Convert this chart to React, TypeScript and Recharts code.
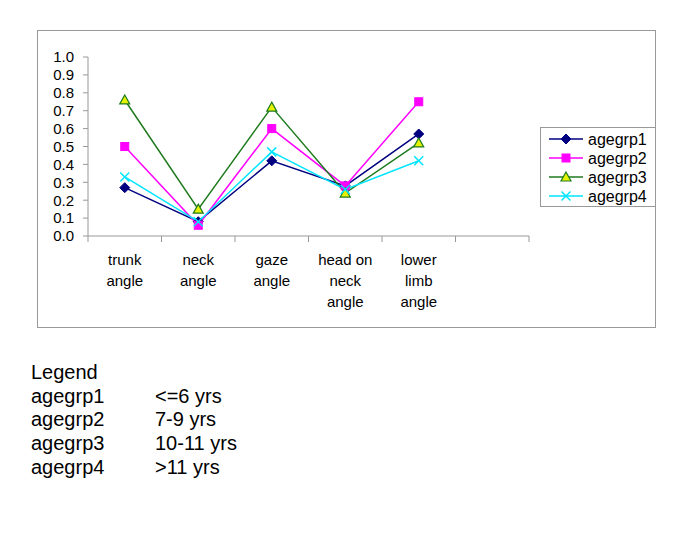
import React from 'react'
import { LineChart, Line, XAxis, YAxis } from 'recharts'

// ── データ ──
const categories = ['trunk\nangle', 'neck\nangle', 'gaze\nangle', 'head on\nneck\nangle', 'lower\nlimb\nangle', '']
const agegrp1 = [0.27, 0.08, 0.42, 0.28, 0.57]
const agegrp2 = [0.5, 0.06, 0.6, 0.28, 0.75]
const agegrp3 = [0.76, 0.15, 0.72, 0.24, 0.52]
const agegrp4 = [0.33, 0.08, 0.47, 0.26, 0.42]
const yTicks = [0, 0.1, 0.2, 0.3, 0.4, 0.5, 0.6, 0.7, 0.8, 0.9, 1.0]
const groupNames = ['agegrp1', 'agegrp2', 'agegrp3', 'agegrp4']
const groupAges = ['<=6 yrs', '7-9 yrs', '10-11 yrs', '>11 yrs']

const data = categories.map((c, i) => ({
  name: c,
  agegrp1: agegrp1[i] ?? null,
  agegrp2: agegrp2[i] ?? null,
  agegrp3: agegrp3[i] ?? null,
  agegrp4: agegrp4[i] ?? null,
}))

const FONT = 'Liberation Sans, Arial, sans-serif'
const W = 619
const H = 298
const M = { top: 27, right: 127, left: 11, bottom: 12 }
const PLOT_W = W - M.left - M.right - 40
const BAND = PLOT_W / categories.length

// ── マーカー ──
function Marker({ kind, cx, cy }: { kind: number; cx: number; cy: number }) {
  if (cx == null || cy == null) return null
  if (kind === 0)
    return <polygon points={`${cx},${cy - 5} ${cx + 5},${cy} ${cx},${cy + 5} ${cx - 5},${cy}`} fill="#000080" stroke="#000080" />
  if (kind === 1)
    return <rect x={cx - 4} y={cy - 4} width={8} height={8} fill="#FF00FF" stroke="#FF00FF" />
  if (kind === 2)
    return <polygon points={`${cx},${cy - 5} ${cx + 5},${cy + 4} ${cx - 5},${cy + 4}`} fill="#E5F200" stroke="#1E7B1E" strokeWidth={1.2} />
  return (
    <g stroke="#00E5FF" strokeWidth={1.5}>
      <line x1={cx - 4.5} y1={cy - 4.5} x2={cx + 4.5} y2={cy + 4.5} />
      <line x1={cx - 4.5} y1={cy + 4.5} x2={cx + 4.5} y2={cy - 4.5} />
    </g>
  )
}

const colors = ['#000080', '#FF00FF', '#1E7B1E', '#00E5FF']

// ── X軸ラベル ──
function CatTick(props: any) {
  const { x, y, payload, index } = props
  const lines = String(payload.value).split('\n')
  return (
    <g>
      <line x1={x - BAND / 2} y1={y - 8} x2={x - BAND / 2} y2={y - 2} stroke="#999" />
      {index === categories.length - 1 && (
        <line x1={x + BAND / 2} y1={y - 8} x2={x + BAND / 2} y2={y - 2} stroke="#999" />
      )}
      {lines.map((l, i) => (
        <text key={i} x={x} y={y + 21 + i * 21} textAnchor="middle" fontSize={15} fontFamily={FONT} fill="#000">
          {l}
        </text>
      ))}
    </g>
  )
}

function LegendBox() {
  return (
    <div style={{ position: 'absolute', left: 540, top: 127, border: '1px solid #999', width: 116, height: 80, boxSizing: 'border-box', background: '#fff' }}>
      <svg width={114} height={78} style={{ display: 'block' }}>
        {groupNames.map((g, i) => {
          const cy = 11 + i * 19
          return (
            <g key={g}>
              <line x1={8} x2={42} y1={cy} y2={cy} stroke={colors[i]} strokeWidth={1.5} />
              <Marker kind={i} cx={25} cy={cy} />
              <text x={47} y={cy + 5.5} fontSize={16} fontFamily={FONT} fill="#000">{g}</text>
            </g>
          )
        })}
      </svg>
    </div>
  )
}

export default function App() {
  return (
    <div style={{ position: 'relative', width: 685, height: 538, margin: -8, fontFamily: FONT }}>
      <div style={{ position: 'absolute', left: 37, top: 30, width: W, height: H, border: '1px solid #999', boxSizing: 'border-box' }}>
        <LineChart width={W} height={H} data={data} margin={M} style={{ position: 'absolute', left: -1, top: -1 }}>
          <XAxis
            dataKey="name"
            scale="band"
            interval={0}
            height={80}
            stroke="#999"
            tickLine={false}
            tick={<CatTick />}
          />
          <YAxis
            domain={[0, 1]}
            ticks={yTicks}
            interval={0}
            width={40}
            stroke="#999"
            tickSize={5}
            tickMargin={9}
            tickFormatter={(v: number) => v.toFixed(1)}
            tick={{ fontSize: 15, fill: '#000', fontFamily: FONT }}
          />
          {groupNames.map((g, i) => (
            <Line
              key={g}
              dataKey={g}
              stroke={colors[i]}
              strokeWidth={1.5}
              isAnimationActive={false}
              dot={(p: any) => <Marker key={`${g}-${p.index}`} kind={i} cx={p.cx} cy={p.cy} />}
              activeDot={false}
            />
          ))}
        </LineChart>
      </div>
      <LegendBox />
      <div style={{ position: 'absolute', left: 31, top: 361, fontSize: 20, lineHeight: '23.7px', color: '#000' }}>
        <div>Legend</div>
        {groupNames.map((g, i) => (
          <div key={g} style={{ display: 'flex' }}>
            <span style={{ width: 124 }}>{g}</span>
            <span>{groupAges[i]}</span>
          </div>
        ))}
      </div>
    </div>
  )
}
